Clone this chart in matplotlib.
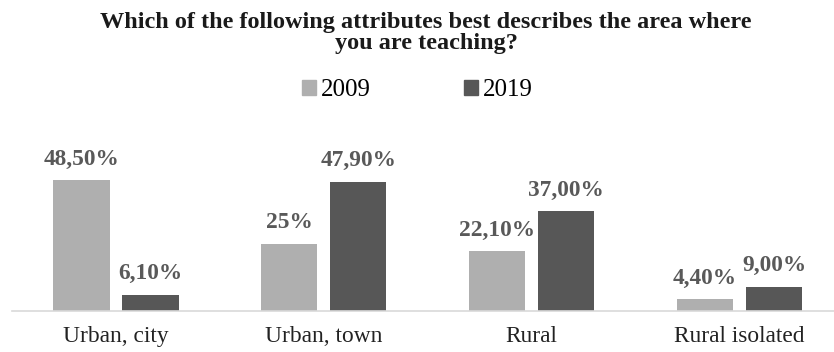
import matplotlib.pyplot as plt
import numpy as np
from matplotlib.patches import Patch

categories = ["Urban, city", "Urban, town", "Rural", "Rural isolated"]
vals_2009 = [48.5, 25.0, 22.1, 4.4]
vals_2019 = [6.1, 47.9, 37.0, 9.0]
labels_2009 = ["48,50%", "25%", "22,10%", "4,40%"]
labels_2019 = ["6,10%", "47,90%", "37,00%", "9,00%"]
title_lines = ["Which of the following attributes best describes the area where",
               "you are teaching?"]

c09 = "#afafaf"
c19 = "#575757"
serif = "Liberation Serif"

fig = plt.figure(figsize=(8.34, 3.52), dpi=100)
# plot area in pixels: x 12..834, baseline at y=311
ax = fig.add_axes([12/834, 41/352, 822/834, 135/352])

x = np.arange(len(categories))
w = 0.27
off = 0.166
b1 = ax.bar(x - off, vals_2009, w, color=c09)
b2 = ax.bar(x + off, vals_2019, w, color=c19)

for bars, labs in ((b1, labels_2009), (b2, labels_2019)):
    for rect, lab in zip(bars, labs):
        ax.annotate(lab, (rect.get_x() + rect.get_width()/2, rect.get_height()),
                    xytext=(0, 11), textcoords="offset points",
                    ha="center", va="baseline", fontsize=16.8,
                    fontweight="bold", family=serif, color="#595959")

ax.set_xlim(-0.5, 3.454)
ax.set_ylim(0, 50)
ax.set_xticks(x)
ax.set_xticklabels(categories, fontsize=16.8, family=serif, color="#222222")
ax.tick_params(axis="x", length=0, pad=11)
ax.set_yticks([])
for s in ("top", "left", "right"):
    ax.spines[s].set_visible(False)
ax.spines["bottom"].set_color("#d9d9d9")
ax.spines["bottom"].set_linewidth(1.2)

for line, ypx in zip(title_lines, (28, 49)):
    fig.text(0.511, 1 - ypx/352, line, ha="center", va="baseline",
             fontsize=17.5, fontweight="bold", family=serif, color="#1a1a1a")

handles = [Patch(color=c09, label="2009"), Patch(color=c19, label="2019")]
fig.legend(handles=handles, loc="center", bbox_to_anchor=(0.5006, 1 - 90/352),
           ncol=2, frameon=False, prop={"family": serif, "size": 18},
           handlelength=0.55, handleheight=0.55, handletextpad=0.2,
           columnspacing=3.72, borderaxespad=0)

fig.savefig("out.png", dpi=100)
